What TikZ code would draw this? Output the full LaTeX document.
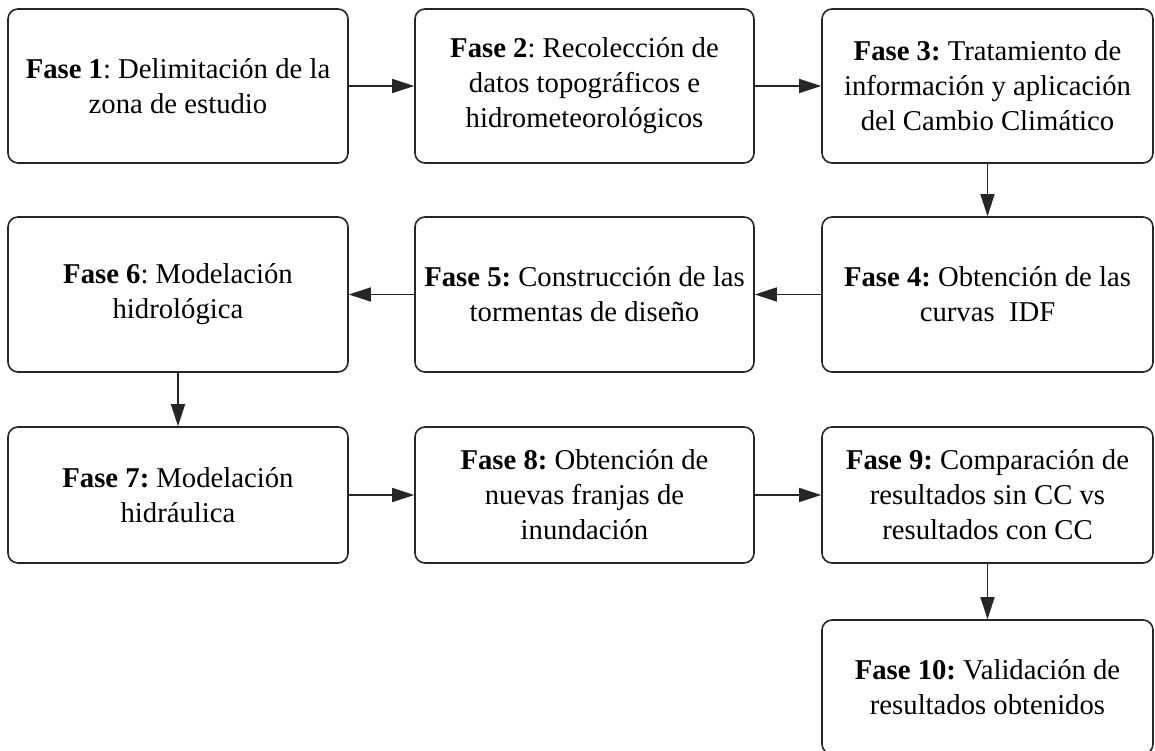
\documentclass[tikz,border=0pt]{standalone}
\usepackage{fontspec}
\setmainfont{Liberation Serif}
\usetikzlibrary{arrows.meta}
\begin{document}
\frenchspacing
\begin{tikzpicture}[x=1pt,y=-1pt,
  fasebox/.style={draw=black!85, line width=1.6pt, rounded corners=10pt, fill=white,
    inner sep=0pt, align=center, font=\fontsize{28.7}{35}\selectfont\frenchspacing},
  flow/.style={draw=black!85, line width=1.5pt, -{Triangle[length=22pt,width=14pt,fill=black!85]}}]
\useasboundingbox (0,0) rectangle (1155,751);
\fill[white] (0,0) rectangle (1155,751);
\node[fasebox, minimum width=340pt, minimum height=154pt] (f1) at (178,86)
  {\textbf{Fase 1}: Delimitación de la\\zona de estudio};
\node[fasebox, minimum width=339pt, minimum height=154pt] (f2) at (584.5,86)
  {\textbf{Fase 2}: Recolección de\\datos topográficos e\\hidrometeorológicos};
\node[fasebox, minimum width=331pt, minimum height=154pt] (f3) at (987.5,86)
  {\textbf{Fase 3:} Tratamiento de\\información y aplicación\\del Cambio Climático};
\node[fasebox, minimum width=331pt, minimum height=155pt] (f4) at (987.5,294.5)
  {\textbf{Fase 4:} Obtención de las\\curvas~~IDF};
\node[fasebox, minimum width=339pt, minimum height=155pt] (f5) at (584.5,294.5)
  {\textbf{Fase 5:} Construcción de las\\tormentas de diseño};
\node[fasebox, minimum width=340pt, minimum height=155pt] (f6) at (178,294.5)
  {\textbf{Fase 6}: Modelación\\hidrológica};
\node[fasebox, minimum width=340pt, minimum height=136pt] (f7) at (178,495)
  {\textbf{Fase 7:} Modelación\\hidráulica};
\node[fasebox, minimum width=339pt, minimum height=136pt] (f8) at (584.5,495)
  {\textbf{Fase 8:} Obtención de\\nuevas franjas de\\inundación};
\node[fasebox, minimum width=331pt, minimum height=136pt] (f9) at (987.5,495)
  {\textbf{Fase 9:} Comparación de\\resultados sin CC vs\\resultados con CC};
\node[fasebox, minimum width=331pt, minimum height=134pt] (f10) at (987.5,687)
  {\textbf{Fase 10:} Validación de\\resultados obtenidos};
\draw[flow] (f1) -- (f2);
\draw[flow] (f2) -- (f3);
\draw[flow] (f3) -- (f4);
\draw[flow] (f4) -- (f5);
\draw[flow] (f5) -- (f6);
\draw[flow] (f6) -- (f7);
\draw[flow] (f7) -- (f8);
\draw[flow] (f8) -- (f9);
\draw[flow] (f9) -- (f10);
\end{tikzpicture}
\end{document}
